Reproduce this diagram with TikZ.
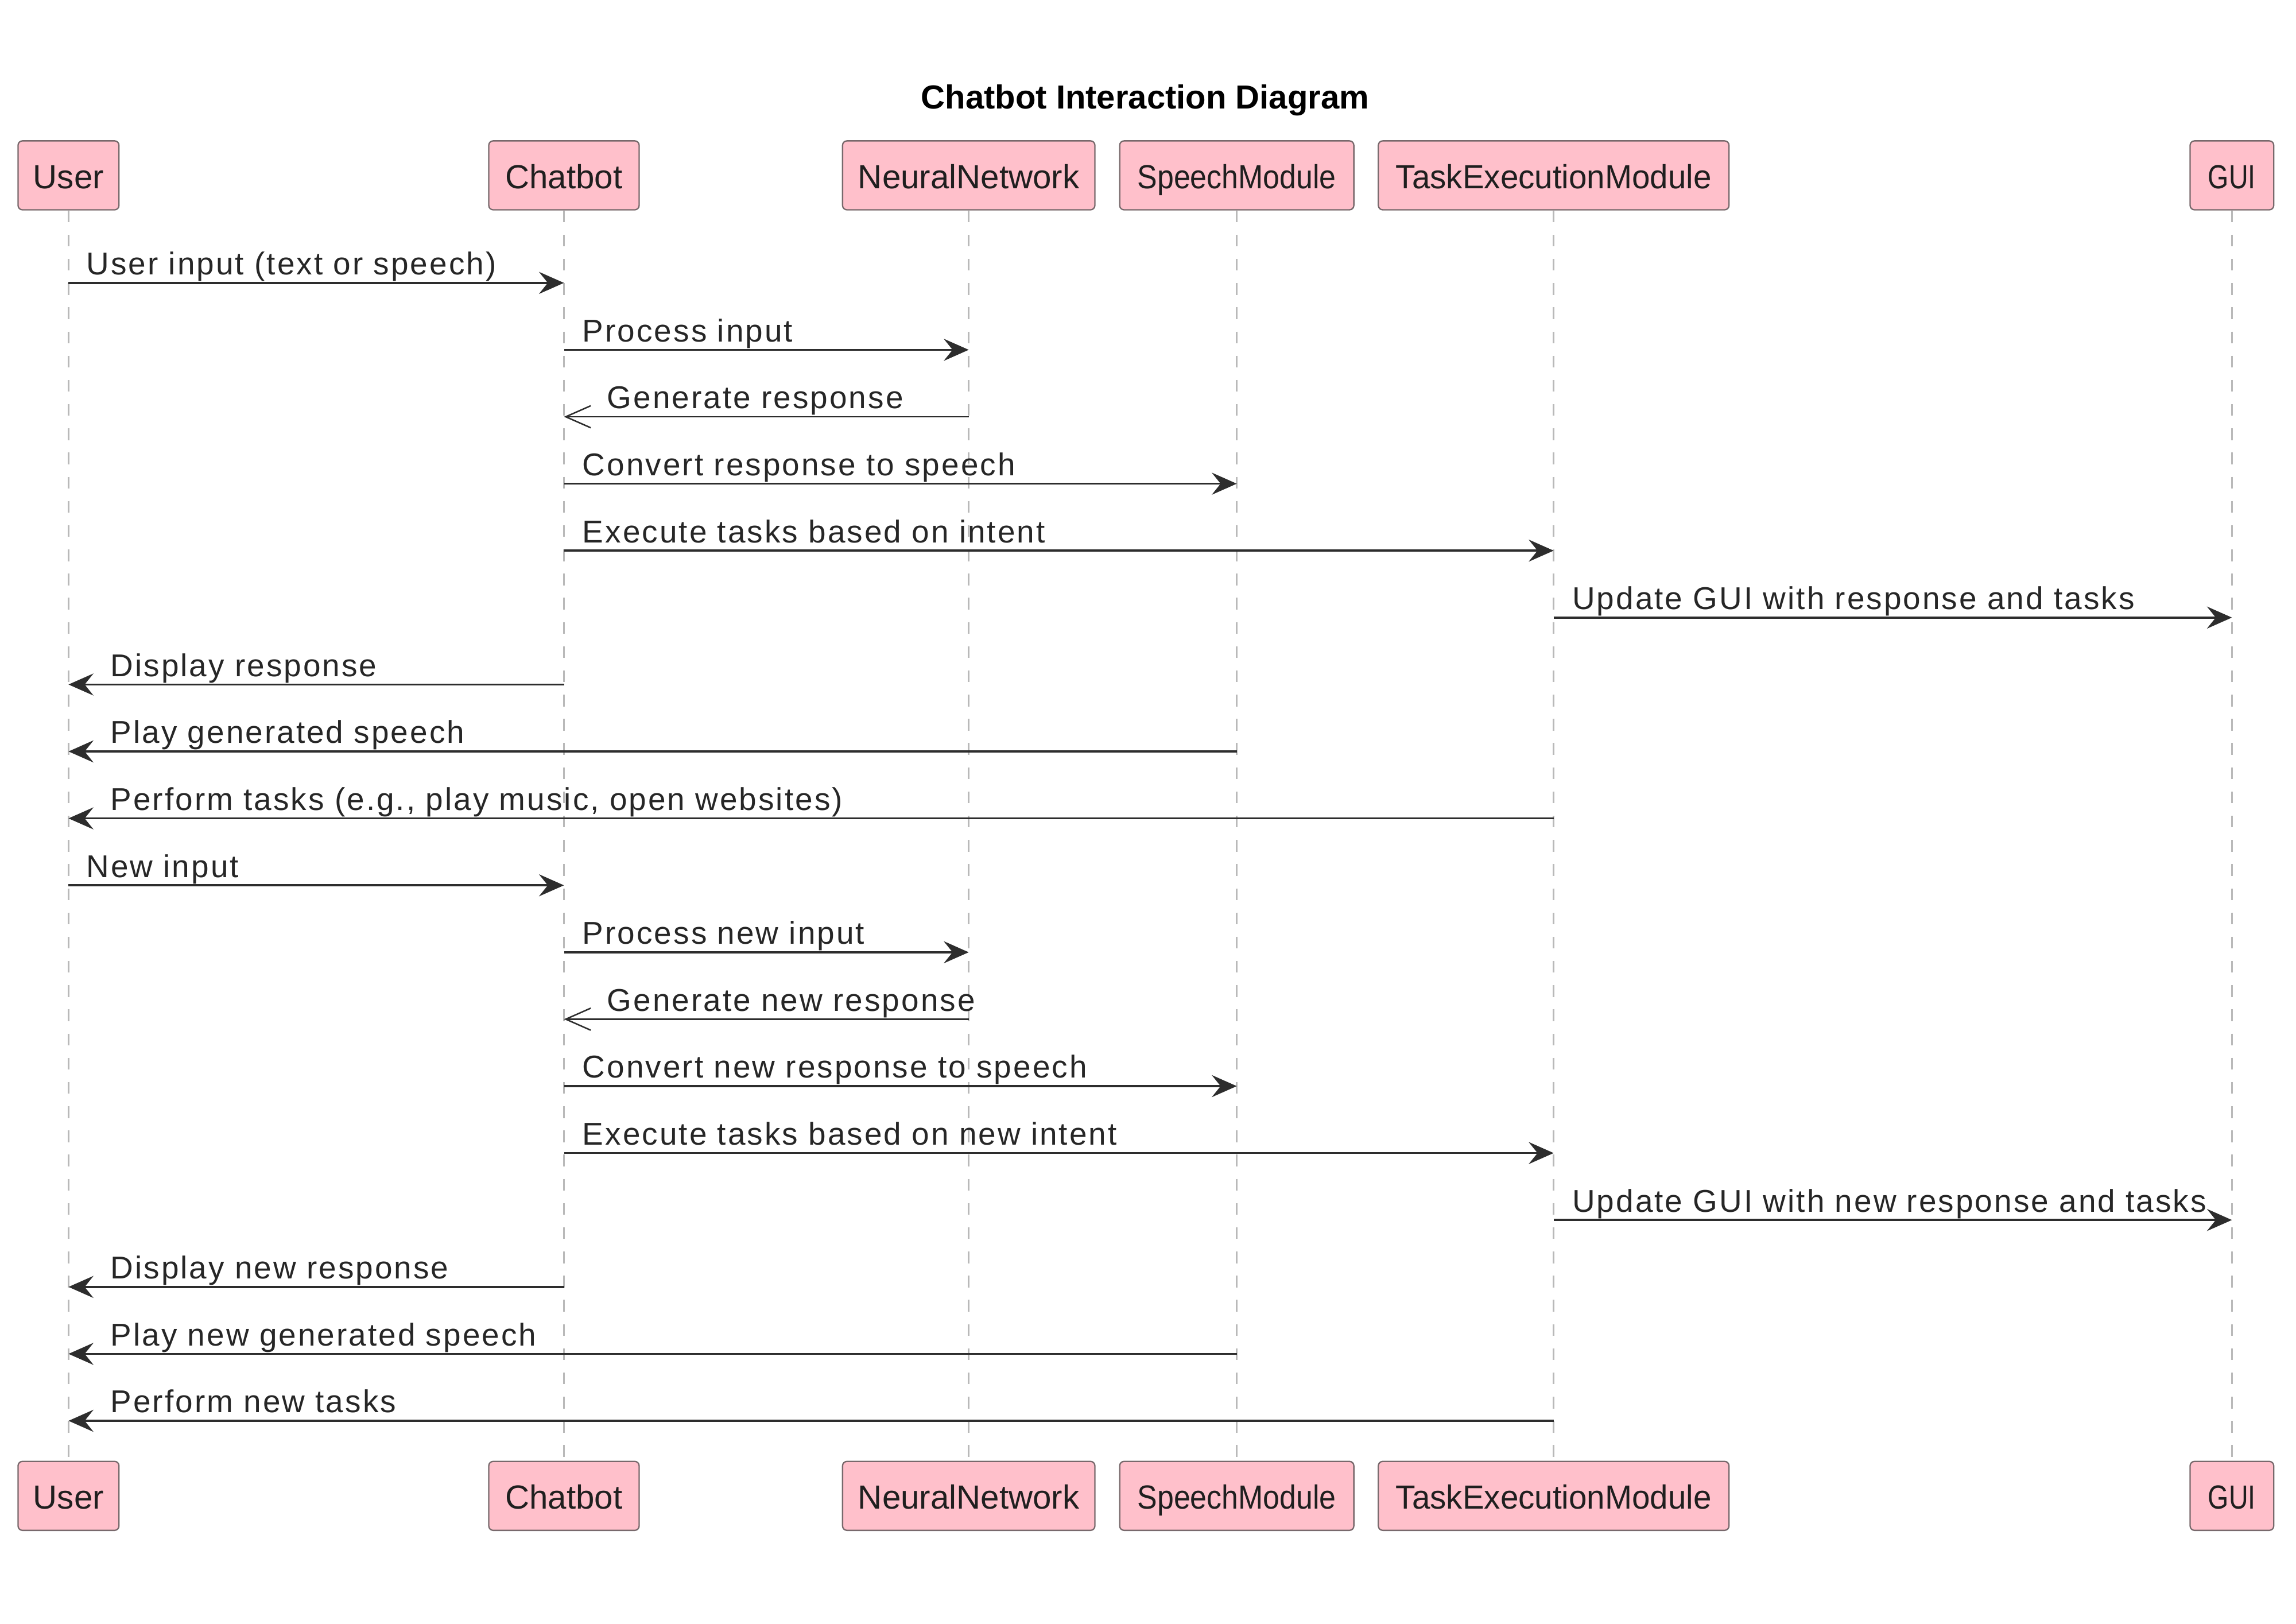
\documentclass[tikz,border=0pt]{standalone}
\usepackage{fontspec}
\setmainfont{Liberation Sans}
\newfontfamily\msgfont[LetterSpace=5.5]{Liberation Sans}
\usetikzlibrary{arrows.meta}
\definecolor{boxpink}{RGB}{255,192,203}
\definecolor{boxline}{RGB}{120,105,108}
\definecolor{lifegray}{RGB}{185,185,185}
\definecolor{msgline}{RGB}{45,45,45}

\begin{document}
\begin{tikzpicture}[x=1pt,y=-1pt]
    \tikzstyle{actor}=[draw=boxline,fill=boxpink,rounded corners=3pt,line width=0.9pt,minimum height=47pt,inner xsep=8pt,text height=19.5pt,text depth=1.5pt,font=\fontsize{22.8}{27}\selectfont,text=black!88]
    \tikzstyle{lifeline}=[draw=lifegray,line width=1.2pt,dash pattern=on 8pt off 8.5pt]
    \tikzstyle{msg}=[draw=msgline,line width=1.4pt,-{Stealth[length=17pt,width=15pt,inset=6pt]}]
    \tikzstyle{reply}=[draw=msgline,line width=1pt,-{Straight Barb[length=17pt,width=15pt]}]
    \tikzstyle{lbl}=[anchor=base west,inner sep=0pt,font=\msgfont\fontsize{21.5}{26}\selectfont,text=black!85]

    \useasboundingbox (0,0) rectangle (1565,1106.8);

    \def\top{119.5}
    \def\bot{1019.5}

    \node[anchor=base,font=\bfseries\fontsize{22.7}{27}\selectfont] (title) at (780.5,74.3) {Chatbot Interaction Diagram};

    \node[actor,minimum width=68.8pt]  (user)   at (46.7,\top)  {User};
    \node[actor,minimum width=102.5pt] (chat)   at (384.4,\top) {Chatbot};
    \node[actor,minimum width=172pt]   (neural) at (660.3,\top) {NeuralNetwork};
    \node[actor,minimum width=159.6pt] (speech) at (843.0,\top) {\scalebox{0.89}[1]{SpeechModule}};
    \node[actor,minimum width=239pt]   (task)   at (1059.0,\top) {\scalebox{0.97}[1]{TaskExecutionModule}};
    \node[actor,minimum width=57pt]    (gui)    at (1521.3,\top) {\scalebox{0.8}[1]{GUI}};

    \node[actor,minimum width=68.8pt]  (userB)   at (46.7,\bot)  {User};
    \node[actor,minimum width=102.5pt] (chatB)   at (384.4,\bot) {Chatbot};
    \node[actor,minimum width=172pt]   (neuralB) at (660.3,\bot) {NeuralNetwork};
    \node[actor,minimum width=159.6pt] (speechB) at (843.0,\bot) {\scalebox{0.89}[1]{SpeechModule}};
    \node[actor,minimum width=239pt]   (taskB)   at (1059.0,\bot) {\scalebox{0.97}[1]{TaskExecutionModule}};
    \node[actor,minimum width=57pt]    (guiB)    at (1521.3,\bot) {\scalebox{0.8}[1]{GUI}};

    \path[lifeline] (user.south) -- (userB.north);
    \path[lifeline] (chat.south) -- (chatB.north);
    \path[lifeline] (neural.south) -- (neuralB.north);
    \path[lifeline] (speech.south) -- (speechB.north);
    \path[lifeline] (task.south) -- (taskB.north);
    \path[lifeline] (gui.south) -- (guiB.north);

    % one row per message
    \foreach \i in {1,...,18}
        \coordinate (r\i) at (0,{192.8+(\i-1)*45.62});

    \path[msg] (user |- r1) -- (chat |- r1) node[lbl,pos=0,xshift=11.5pt,yshift=5.5pt] {User input (text or speech)};
    \path[msg] (chat |- r2) -- (neural |- r2) node[lbl,pos=0,xshift=12pt,yshift=5.5pt] {Process input};
    \path[reply] (neural |- r3) -- (chat |- r3) node[lbl,pos=1,xshift=29pt,yshift=5.5pt] {Generate response};
    \path[msg] (chat |- r4) -- (speech |- r4) node[lbl,pos=0,xshift=12pt,yshift=5.5pt] {Convert response to speech};
    \path[msg] (chat |- r5) -- (task |- r5) node[lbl,pos=0,xshift=12pt,yshift=5.5pt] {Execute tasks based on intent};
    \path[msg] (task |- r6) -- (gui |- r6) node[lbl,pos=0,xshift=12pt,yshift=5.5pt] {Update GUI with response and tasks};
    \path[msg] (chat |- r7) -- (user |- r7) node[lbl,pos=1,xshift=28pt,yshift=5.5pt] {Display response};
    \path[msg] (speech |- r8) -- (user |- r8) node[lbl,pos=1,xshift=28pt,yshift=5.5pt] {Play generated speech};
    \path[msg] (task |- r9) -- (user |- r9) node[lbl,pos=1,xshift=28pt,yshift=5.5pt] {Perform tasks (e.g., play music, open websites)};

    \path[msg] (user |- r10) -- (chat |- r10) node[lbl,pos=0,xshift=11.5pt,yshift=5.5pt] {New input};
    \path[msg] (chat |- r11) -- (neural |- r11) node[lbl,pos=0,xshift=12pt,yshift=5.5pt] {Process new input};
    \path[reply] (neural |- r12) -- (chat |- r12) node[lbl,pos=1,xshift=29pt,yshift=5.5pt] {Generate new response};
    \path[msg] (chat |- r13) -- (speech |- r13) node[lbl,pos=0,xshift=12pt,yshift=5.5pt] {Convert new response to speech};
    \path[msg] (chat |- r14) -- (task |- r14) node[lbl,pos=0,xshift=12pt,yshift=5.5pt] {Execute tasks based on new intent};
    \path[msg] (task |- r15) -- (gui |- r15) node[lbl,pos=0,xshift=12pt,yshift=5.5pt] {Update GUI with new response and tasks};
    \path[msg] (chat |- r16) -- (user |- r16) node[lbl,pos=1,xshift=28pt,yshift=5.5pt] {Display new response};
    \path[msg] (speech |- r17) -- (user |- r17) node[lbl,pos=1,xshift=28pt,yshift=5.5pt] {Play new generated speech};
    \path[msg] (task |- r18) -- (user |- r18) node[lbl,pos=1,xshift=28pt,yshift=5.5pt] {Perform new tasks};
\end{tikzpicture}
\end{document}
